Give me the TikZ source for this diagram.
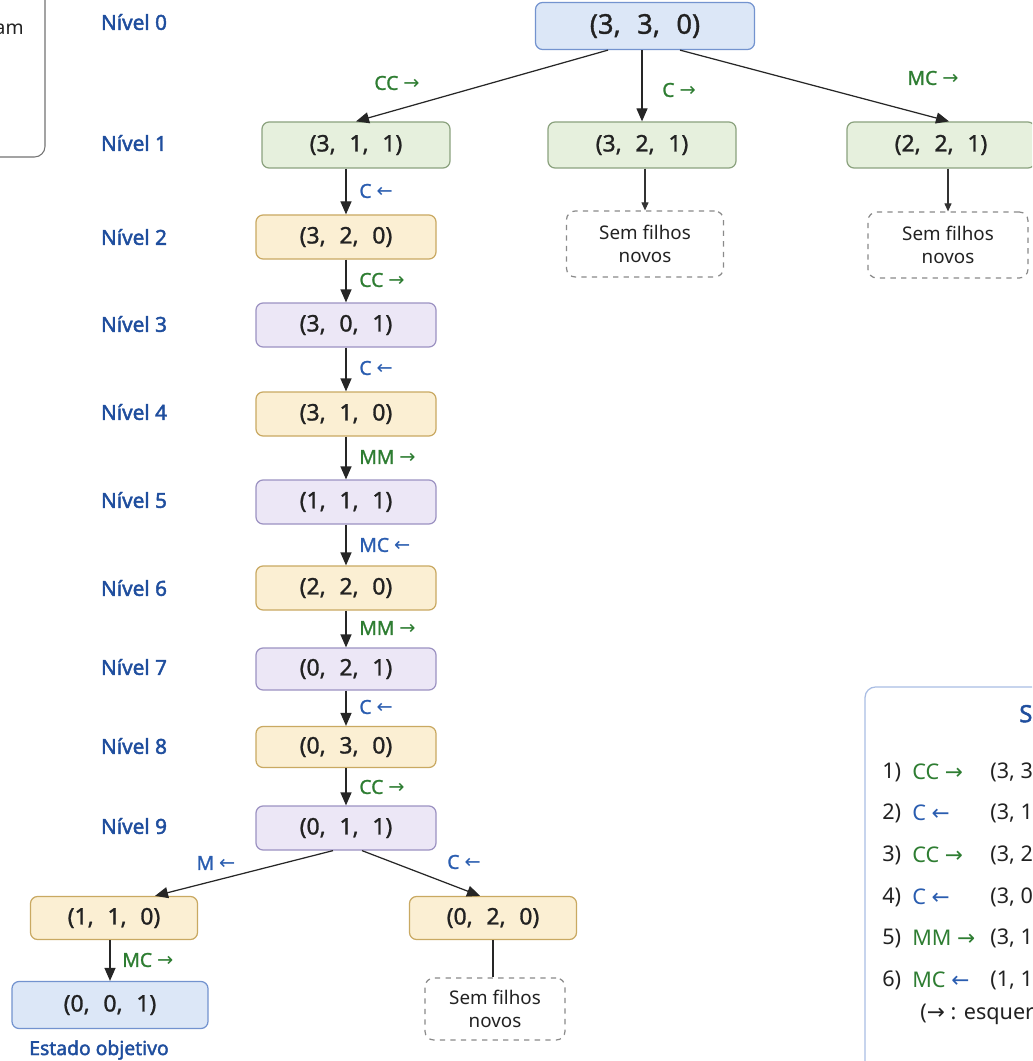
\documentclass[tikz,border=0pt]{standalone}
\usepackage{fontspec}
\setmainfont[AutoFakeBold=2]{Noto Sans}
\newfontfamily\medfont[FakeBold=1.2]{Noto Sans}
\newfontfamily\arwfont{DejaVu Sans}
\usepackage{tikz}
\usetikzlibrary{arrows.meta,positioning,calc}
\usepackage{xcolor}
\definecolor{lvblue}{HTML}{1F4E9E}
\definecolor{mvgreen}{HTML}{2E7D32}
\definecolor{mvblue}{HTML}{2A5DB0}
\definecolor{rootfill}{HTML}{DCE7F7}
\definecolor{rootline}{HTML}{7393CF}
\definecolor{grnfill}{HTML}{E6F0DD}
\definecolor{grnline}{HTML}{8BA27E}
\definecolor{orgfill}{HTML}{FBEFD3}
\definecolor{orgline}{HTML}{C9A962}
\definecolor{prpfill}{HTML}{ECE7F6}
\definecolor{prpline}{HTML}{9C92C2}
\definecolor{dashgray}{HTML}{8A8A8A}
\definecolor{solline}{HTML}{A9BDE4}
\definecolor{txtdark}{HTML}{222222}
\newcommand{\rarr}{{\arwfont →}}
\newcommand{\larr}{{\arwfont ←}}
\newcommand{\tpl}[3]{(#1,\hspace{0.6em}#2,\hspace{0.6em}#3)}
\tikzset{
  state/.style   = {draw, line width=0.7pt, rounded corners=4pt, text=txtdark,
                    minimum width=3.6cm, minimum height=0.88cm, inner sep=0pt,
                    font=\fontsize{13}{15}\medfont},
  sblue/.style   = {state, fill=rootfill, draw=rootline},
  sgreen/.style  = {state, fill=grnfill, draw=grnline, minimum width=3.76cm, minimum height=0.92cm},
  sorange/.style = {state, fill=orgfill, draw=orgline},
  spurple/.style = {state, fill=prpfill, draw=prpline},
  nochild/.style = {draw=dashgray, dashed, line width=0.7pt, rounded corners=5pt,
                    minimum width=3.14cm, minimum height=1.32cm, align=center,
                    text=txtdark, font=\fontsize{10.7}{13.5}\selectfont},
  lvl/.style     = {text=lvblue, font=\fontsize{11.8}{14}\selectfont\bfseries},
  mvg/.style     = {text=mvgreen, font=\fontsize{11}{13}\medfont},
  mvb/.style     = {text=mvblue, font=\fontsize{11}{13}\medfont},
  soltxt/.style  = {anchor=west, inner sep=0pt, text=txtdark, font=\fontsize{12.3}{14}\selectfont},
  arr/.style     = {-{Triangle[length=2.6mm,width=2.2mm]}, line width=0.7pt, draw=black!85},
  arrs/.style    = {-{Triangle[length=1.6mm,width=1.4mm]}, line width=0.6pt, draw=black!80},
}
\begin{document}
\begin{tikzpicture}[x=1cm, y=1cm]
\useasboundingbox (0,0) rectangle (20.64,-21.22);
\clip (0,0) rectangle (20.64,-21.22);
\fill[white] (0,0) rectangle (20.64,-21.22);
% ---------- legend (left, cut off) ----------
\draw[black!55, line width=0.6pt, rounded corners=6pt] (-3,0.5) rectangle (0.9,-3.14);
\node[anchor=east, inner sep=0pt, text=txtdark, font=\fontsize{11}{13}\selectfont] (legtxt) at (0.48,-0.58) {am};
% ---------- levels ----------
\foreach \n/\y in {0/0.44, 1/2.86, 2/4.74, 3/6.48, 4/8.24, 5/10.0, 6/11.76, 7/13.34, 8/14.92, 9/16.52}
  \node[lvl] (lv\n) at (2.68,-\y) {Nível \n};
% ---------- states ----------
\node[sblue, minimum width=4.38cm, minimum height=0.94cm, font=\fontsize{15.5}{18}\medfont] (s330) at (12.9,-0.52) {\tpl{3}{3}{0}};
\node[sgreen] (s311) at (7.12,-2.9) {\tpl{3}{1}{1}};
\node[sgreen] (s321) at (12.84,-2.9) {\tpl{3}{2}{1}};
\node[sgreen] (s221) at (18.82,-2.9) {\tpl{2}{2}{1}};
\node[nochild] (nc1) at (12.9,-4.88) {Sem filhos\\novos};
\node[nochild, minimum width=3.2cm] (nc2) at (18.96,-4.9) {Sem filhos\\novos};
\node[sorange] (s320) at (6.92,-4.74) {\tpl{3}{2}{0}};
\node[spurple] (s301) at (6.92,-6.5) {\tpl{3}{0}{1}};
\node[sorange] (s310) at (6.92,-8.28) {\tpl{3}{1}{0}};
\node[spurple] (s111) at (6.92,-10.04) {\tpl{1}{1}{1}};
\node[sorange] (s220) at (6.92,-11.76) {\tpl{2}{2}{0}};
\node[spurple, minimum height=0.84cm] (s021) at (6.92,-13.38) {\tpl{0}{2}{1}};
\node[sorange, minimum height=0.82cm] (s030) at (6.92,-14.94) {\tpl{0}{3}{0}};
\node[spurple] (s011) at (6.92,-16.56) {\tpl{0}{1}{1}};
\node[sorange, minimum width=3.34cm, minimum height=0.86cm] (s110) at (2.28,-18.36) {\tpl{1}{1}{0}};
\node[sorange, minimum width=3.34cm, minimum height=0.86cm] (s020) at (9.86,-18.36) {\tpl{0}{2}{0}};
\node[sblue, minimum width=3.92cm, minimum height=0.94cm] (s001) at (2.2,-20.1) {\tpl{0}{0}{1}};
\node[nochild, minimum width=2.8cm, minimum height=1.24cm] (nc3) at (9.9,-20.18) {Sem filhos\\novos};
\node[lvl, font=\fontsize{11}{14}\selectfont\bfseries] (goal) at (1.98,-21.0) {Estado objetivo};
% ---------- moves ----------
\draw[arr] ([xshift=-0.74cm]s330.south) -- (s311.north);
\draw[arr] (s321.north |- s330.south) -- (s321.north);
\draw[arr] ([xshift=0.7cm]s330.south) -- ([xshift=0.16cm]s221.north);
\draw[arrs] (nc1.north |- s321.south) -- (nc1.north);
\draw[arrs] (nc2.north |- s221.south) -- (nc2.north);
\foreach \a/\b in {s311/s320, s320/s301, s301/s310, s310/s111, s111/s220, s220/s021, s021/s030, s030/s011}
  \draw[arr] (\b.north |- \a.south) -- (\b.north);
\draw[arr] ([xshift=-0.26cm]s011.south) -- ([xshift=0.82cm]s110.north);
\draw[arr] ([xshift=0.32cm]s011.south) -- ([xshift=-0.26cm]s020.north);
\draw[arr] (s001.north |- s110.south) -- (s001.north);
\draw[line width=0.7pt, black!85] (s020.south) -- (s020.south |- nc3.north);
% ---------- move labels ----------
\node[mvg] (m1) at (7.94,-1.66) {CC \rarr};
\node[mvg] (m2) at (13.58,-1.8) {C \rarr};
\node[mvg] (m3) at (18.66,-1.56) {MC \rarr};
\foreach \y/\s/\t in {3.82/mvb/C \larr, 5.6/mvg/CC \rarr, 7.36/mvb/C \larr, 9.14/mvg/MM \rarr,
                      10.9/mvb/MC \larr, 12.56/mvg/MM \rarr, 14.14/mvb/C \larr, 15.74/mvg/CC \rarr}
  \node[\s, anchor=west, inner sep=0pt] at (7.18,-\y) {\t};
\node[mvb] (m11) at (4.32,-17.26) {M \larr};
\node[mvb] (m12) at (9.28,-17.24) {C \larr};
\node[mvg, anchor=west, inner sep=0pt] (m13) at (2.44,-19.2) {MC \rarr};
% ---------- solution (right, cut off) ----------
\draw[solline, line width=0.7pt, rounded corners=6pt, fill=white] (17.3,-13.74) rectangle (24,-23);
\node[anchor=west, inner sep=0pt, text=lvblue, font=\fontsize{13.5}{16}\selectfont\bfseries] (soltitle) at (20.38,-14.32) {Solução};
\foreach \i/\y/\mv/\tp in {
    1/15.44/{\textcolor{mvgreen}{CC \rarr}}/{(3, 3, 0) \rarr\ (3, 1, 1)},
    2/16.26/{\textcolor{mvblue}{C \larr}}/{(3, 1, 1) \rarr\ (3, 2, 0)},
    3/17.1/{\textcolor{mvgreen}{CC \rarr}}/{(3, 2, 0) \rarr\ (3, 0, 1)},
    4/17.94/{\textcolor{mvblue}{C \larr}}/{(3, 0, 1) \rarr\ (3, 1, 0)},
    5/18.76/{\textcolor{mvgreen}{MM \rarr}}/{(3, 1, 0) \rarr\ (1, 1, 1)},
    6/19.6/{\textcolor{mvgreen}{MC} \textcolor{mvblue}{\larr}}/{(1, 1, 1) \rarr\ (2, 2, 0)}}
{
  \node[soltxt] (num\i) at (17.64,-\y) {\i)};
  \node[soltxt] (mv\i) at (18.24,-\y) {\mv};
  \node[soltxt] (tp\i) at (19.8,-\y) {\tp};
}
\node[soltxt] (solnote) at (18.4,-20.28) {(\rarr\ : esquerda \rarr\ direita)};
\end{tikzpicture}
\end{document}
